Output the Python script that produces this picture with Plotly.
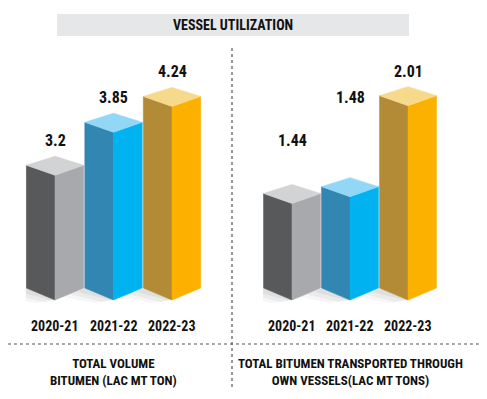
import plotly.graph_objects as go

# ---------------- data ----------------
years = ["2020-21", "2021-22", "2022-23"]
total_volume = [3.2, 3.85, 4.24]
own_vessels = [1.44, 1.48, 2.01]
total_volume_labels = ["3.2", "3.85", "4.24"]
own_vessels_labels = ["1.44", "1.48", "2.01"]
chart_title = "VESSEL UTILIZATION"
panel_titles = ["TOTAL VOLUME<br>BITUMEN (LAC MT TON)",
                "TOTAL BITUMEN TRANSPORTED THROUGH<br>OWN VESSELS(LAC MT TONS)"]

# ---------------- style ----------------
side_colors = ["#58595b", "#3187b1", "#b38a35"]
front_colors = ["#a7a9ac", "#00b3f0", "#fcb000"]
top_colors = ["#d1d3d4", "#93d7f6", "#f7d98c"]
FONT = "Roboto Condensed, Liberation Sans Narrow, Roboto, sans-serif"
TXT = "#111111"

OFF = 8                      # page margin of the html body
W, H = 487 - OFF, 399 - OFF
BOT_PX, TOP_PX, PAD_PX = 300, 40, 12


def py(p):  # page pixel row -> paper y
    return 1 - (p - OFF) / H


def px(p):  # page pixel column -> paper x
    return (p - OFF) / W


panels = [
    dict(values=total_volume, labels=total_volume_labels, title=panel_titles[0],
         xd=(25.75, 201.25), base=1.316, ppu=66.2, xa="x", ya="y"),
    dict(values=own_vessels, labels=own_vessels_labels, title=panel_titles[1],
         xd=(263.0, 437.0), base=0.878, ppu=171.7, xa="x2", ya="y2"),
]

fig = go.Figure()
HW = 0.49
annotations = []

left_ppu = panels[0]["ppu"]
for k, p in enumerate(panels):
    b, ppu = p["base"], p["ppu"]
    d = lambda pix: pix / ppu
    xpix_per_unit = (p["xd"][1] - p["xd"][0]) / 3.0
    dx = lambda pix: pix / xpix_per_unit
    # soft shadows first (to the lower left of each box)
    for i, v in enumerate(p["values"]):
        for (sx1, sy1, sx2, sy2, a) in [(-26, 4, -20, -3, 0.035), (-16, 6, -12, -2, 0.045), (-7, 8, -4, 0, 0.05)]:
            xs = [i - HW, i, i + dx(sx2), i - HW + dx(sx1), i - HW]
            ys = [b + d(12), b, b + d(sy2), b + d(sy1), b + d(12)]
            fig.add_trace(go.Scatter(x=xs, y=ys, fill="toself", mode="lines", line=dict(width=0),
                                     fillcolor=f"rgba(0,0,0,{a})", hoverinfo="skip",
                                     showlegend=False, xaxis=p["xa"], yaxis=p["ya"]))
    for i, v in enumerate(p["values"]):
        faces = [
            ([i - HW, i, i, i - HW, i - HW], [v + d(10), v, b, b + d(12), v + d(10)], side_colors[i]),
            ([i, i + HW, i + HW, i, i], [v, v + d(10), b + d(12), b, v], front_colors[i]),
            ([i - HW, i, i + HW, i, i - HW], [v + d(10), v + d(19), v + d(10), v, v + d(10)], top_colors[i]),
        ]
        for xs, ys, c in faces:
            fig.add_trace(go.Scatter(x=xs, y=ys, fill="toself", mode="lines",
                                     line=dict(width=0.6, color=c), fillcolor=c,
                                     hoverinfo="skip", showlegend=False,
                                     xaxis=p["xa"], yaxis=p["ya"]))
        # value labels share the same rows in both panels (as in the original design)
        lv = panels[0]["values"][i]
        annotations.append(dict(x=i, xref=p["xa"], y=lv + 35 / left_ppu, yref="y",
                                text=p["labels"][i], showarrow=False,
                                font=dict(family=FONT, size=16, color=TXT, weight="bold"),
                                xanchor="center", yanchor="middle"))
        annotations.append(dict(x=i, xref=p["xa"], y=py(326), yref="paper",
                                text=years[i], showarrow=False,
                                font=dict(family=FONT, size=14, color=TXT, weight="bold"),
                                xanchor="center", yanchor="middle"))
    cx = (p["xd"][0] + p["xd"][1]) / 2
    annotations.append(dict(x=px(cx), xref="paper", y=py(372), yref="paper",
                            text=p["title"], showarrow=False, align="center",
                            font=dict(family=FONT, size=13, color=TXT, weight="bold"),
                            xanchor="center", yanchor="middle"))

annotations.append(dict(x=px(233), xref="paper", y=py(25), yref="paper",
                        text=chart_title, showarrow=False,
                        font=dict(family=FONT, size=14, color=TXT, weight="bold"),
                        xanchor="center", yanchor="middle"))

shapes = [
    dict(type="rect", xref="paper", yref="paper", x0=px(57), x1=px(409), y0=py(36), y1=py(14),
         fillcolor="#e6e7e8", line=dict(width=0), layer="below"),
    dict(type="line", xref="paper", yref="paper", x0=px(232), x1=px(232), y0=py(48), y1=py(389),
         line=dict(color="#555555", width=1.2, dash="dot")),
    dict(type="line", xref="paper", yref="paper", x0=px(8), x1=px(481), y0=py(344), y1=py(344),
         line=dict(color="#555555", width=1.2, dash="dot")),
]

layout_axes = {}
for k, p in enumerate(panels):
    sfx = "" if k == 0 else "2"
    b, ppu = p["base"], p["ppu"]
    layout_axes["xaxis" + sfx] = dict(domain=[px(p["xd"][0]), px(p["xd"][1])], range=[-0.5, 2.5],
                                      visible=False, fixedrange=True, anchor="y" + sfx)
    layout_axes["yaxis" + sfx] = dict(domain=[py(BOT_PX + PAD_PX), py(TOP_PX)],
                                      range=[b - PAD_PX / ppu, b + (BOT_PX - TOP_PX) / ppu],
                                      visible=False, fixedrange=True, anchor="x" + sfx)

fig.update_layout(width=W, height=H, margin=dict(l=0, r=0, t=0, b=0),
                  paper_bgcolor="white", plot_bgcolor="rgba(0,0,0,0)",
                  showlegend=False, annotations=annotations, shapes=shapes,
                  **layout_axes)

fig.write_html("out.html")
